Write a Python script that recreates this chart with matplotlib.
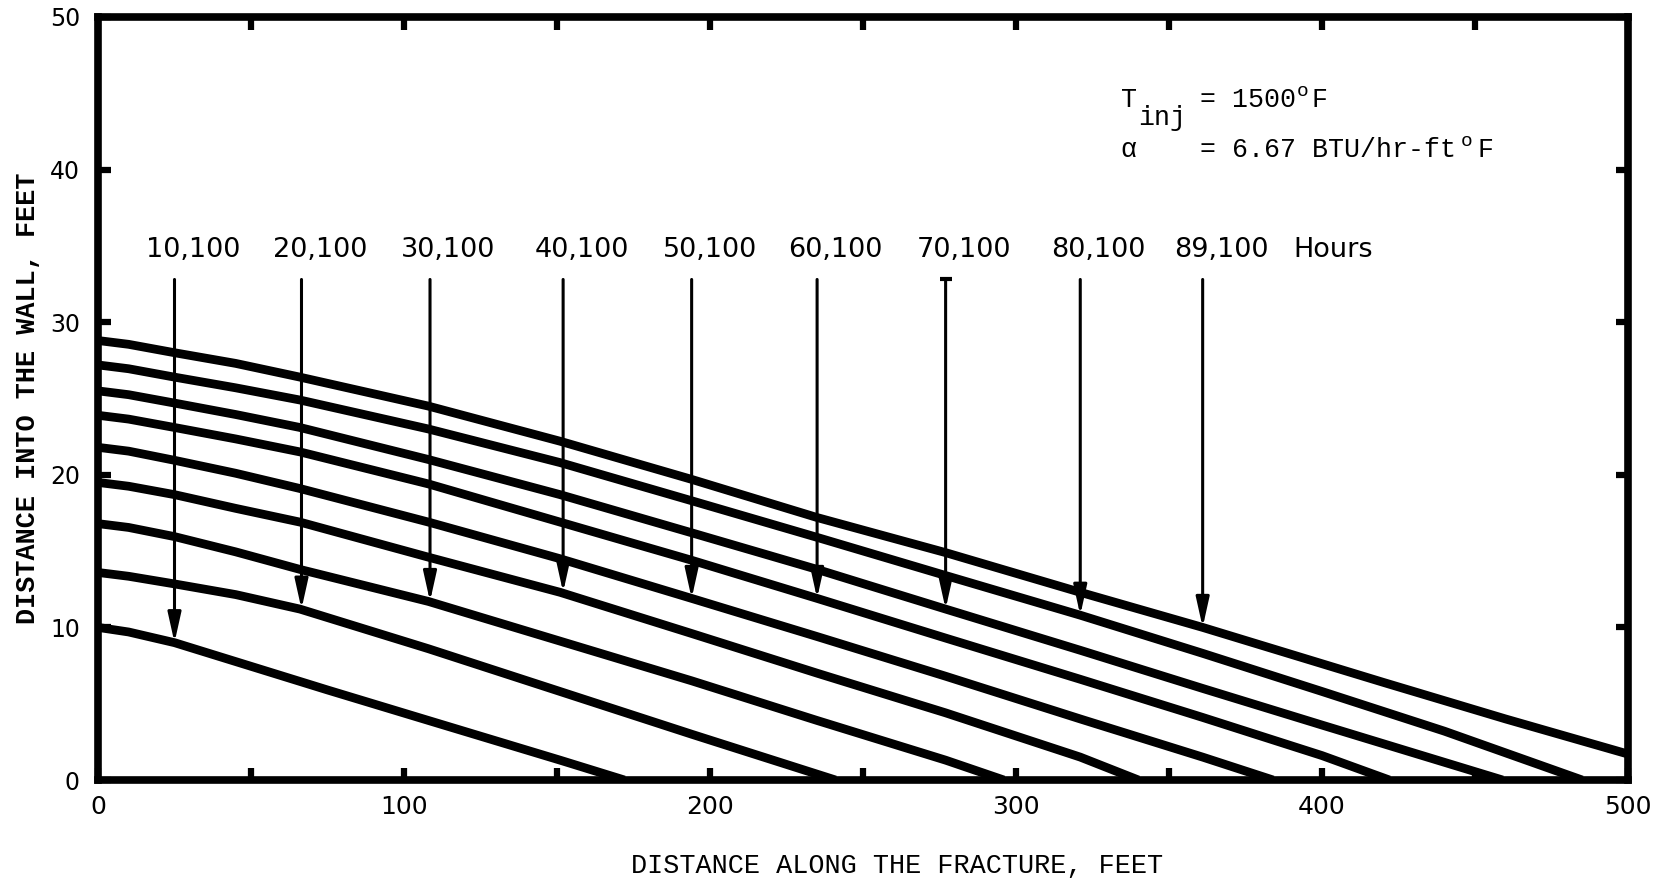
import matplotlib
matplotlib.use("Agg")
import matplotlib.pyplot as plt
from matplotlib.ticker import MultipleLocator

# fronts: distance along the fracture (ft) vs depth into wall (ft)
front_x = [
    [0, 10, 25, 75, 108, 151, 172],
    [0, 10, 25, 45, 66, 108, 151, 194, 241],
    [0, 10, 25, 45, 66, 108, 151, 194, 235, 277, 296],
    [0, 10, 25, 45, 66, 108, 151, 194, 235, 277, 321, 340],
    [0, 10, 25, 45, 66, 108, 151, 194, 235, 277, 321, 361, 384],
    [0, 10, 25, 45, 66, 108, 151, 194, 235, 277, 321, 361, 400, 422],
    [0, 10, 25, 45, 66, 108, 151, 194, 235, 277, 321, 361, 400, 459],
    [0, 10, 25, 45, 66, 108, 151, 194, 235, 277, 321, 361, 400, 440, 485],
    [0, 10, 25, 45, 66, 108, 151, 194, 235, 277, 321, 361, 420, 460, 500],
]
front_y = [
    [10.0, 9.7, 9.0, 5.9, 3.9, 1.3, 0.0],
    [13.6, 13.35, 12.85, 12.15, 11.2, 8.6, 5.8, 3.0, 0.0],
    [16.8, 16.55, 15.95, 14.95, 13.8, 11.7, 9.1, 6.5, 3.9, 1.3, 0.0],
    [19.5, 19.25, 18.7, 17.8, 16.9, 14.6, 12.3, 9.6, 7.0, 4.4, 1.5, 0.0],
    [21.8, 21.55, 20.95, 20.1, 19.1, 16.9, 14.5, 11.9, 9.4, 6.8, 4.0, 1.5, 0.0],
    [23.9, 23.65, 23.1, 22.35, 21.5, 19.4, 16.9, 14.4, 11.9, 9.3, 6.6, 4.1, 1.6, 0.0],
    [25.5, 25.25, 24.7, 23.95, 23.1, 21.0, 18.7, 16.2, 13.8, 11.2, 8.5, 6.0, 3.6, 0.0],
    [27.2, 26.95, 26.4, 25.7, 24.9, 23.0, 20.8, 18.3, 15.9, 13.4, 10.8, 8.3, 5.8, 3.2, 0.0],
    [28.8, 28.55, 28.0, 27.3, 26.4, 24.5, 22.2, 19.7, 17.2, 14.9, 12.3, 10.0, 6.4, 4.0, 1.7],
]

hour_labels = ["10,100", "20,100", "30,100", "40,100", "50,100",
               "60,100", "70,100", "80,100", "89,100"]
arrow_x = [25, 66.5, 108.5, 152, 194, 235, 277, 321, 361]
arrow_tip = [9.0, 11.2, 11.7, 12.3, 11.9, 11.9, 11.2, 10.8, 10.0]
arrow_top = 32.8
label_y = 34.7

x_ticks = [0, 100, 200, 300, 400, 500]
y_ticks = [0, 10, 20, 30, 40, 50]

W, H = 1653, 883
MONO = "Liberation Mono"
SANS = "DejaVu Sans"

plt.rcParams["font.family"] = SANS
plt.rcParams["xtick.labelsize"] = 18
plt.rcParams["ytick.labelsize"] = 17


def px(x, y):
    return x / W, 1 - y / H


fig = plt.figure(figsize=(W / 100, H / 100), dpi=100)
ax = fig.add_axes([98 / W, 1 - 780 / H, (1628 - 98) / W, (780 - 17) / H])

for xs, ys in zip(front_x, front_y):
    ax.plot(xs, ys, color="black", lw=6.3, solid_joinstyle="round",
            solid_capstyle="butt")

for x, tip, lab in zip(arrow_x, arrow_tip, hour_labels):
    ax.annotate("", xy=(x, tip), xytext=(x, arrow_top),
                arrowprops=dict(arrowstyle="-|>,head_length=0.9,head_width=0.2",
                                color="black", lw=2.2, shrinkA=0, shrinkB=0,
                                mutation_scale=20))
    ax.text(x + 6, label_y, lab, ha="center", va="center", fontsize=19.5)
# little bar on top of the 70,100 arrow
ax.plot([arrow_x[6]], [arrow_top], marker="_", ms=9, mew=3, color="black")
ax.text(390.5, label_y, "Hours", ha="left", va="center", fontsize=19.5)

ax.set_xlim(0, 500)
ax.set_ylim(0, 50)
ax.set_xticks(x_ticks)
ax.set_yticks(y_ticks)
ax.xaxis.set_minor_locator(MultipleLocator(50))
ax.tick_params(which="both", direction="in", top=True, right=True,
               length=9, width=4.5, color="black")
ax.tick_params(axis="x", which="major", pad=11, labelsize=18)
ax.tick_params(axis="y", which="major", pad=13, labelsize=17)
for sp in ax.spines.values():
    sp.set_linewidth(5.5)

fig.text(*px(28, 398), "DISTANCE INTO THE WALL, FEET", rotation=90,
         ha="center", va="center", fontsize=19.4, family=MONO,
         fontweight="bold")
fig.text(*px(897, 866), "DISTANCE ALONG THE FRACTURE, FEET",
         ha="center", va="center", fontsize=19.4, family=MONO)

# parameter block
fs = 19.2
fig.text(*px(1121, 107), "T", fontsize=fs, family=MONO, va="baseline")
fig.text(*px(1138, 125), "inj", fontsize=fs, family=MONO, va="baseline")
fig.text(*px(1200, 107), "= 1500", fontsize=fs, family=MONO, va="baseline")
fig.text(*px(1297, 96), "o", fontsize=14, family=MONO, va="baseline")
fig.text(*px(1312, 107), "F", fontsize=fs, family=MONO, va="baseline")
fig.text(*px(1120, 157), "\u03b1", fontsize=fs, family=MONO, va="baseline")
fig.text(*px(1200, 157), "= 6.67 BTU/hr-ft", fontsize=fs, family=MONO,
         va="baseline")
fig.text(*px(1461, 146), "o", fontsize=14, family=MONO, va="baseline")
fig.text(*px(1478, 157), "F", fontsize=fs, family=MONO, va="baseline")

fig.savefig("out.png", dpi=100)
